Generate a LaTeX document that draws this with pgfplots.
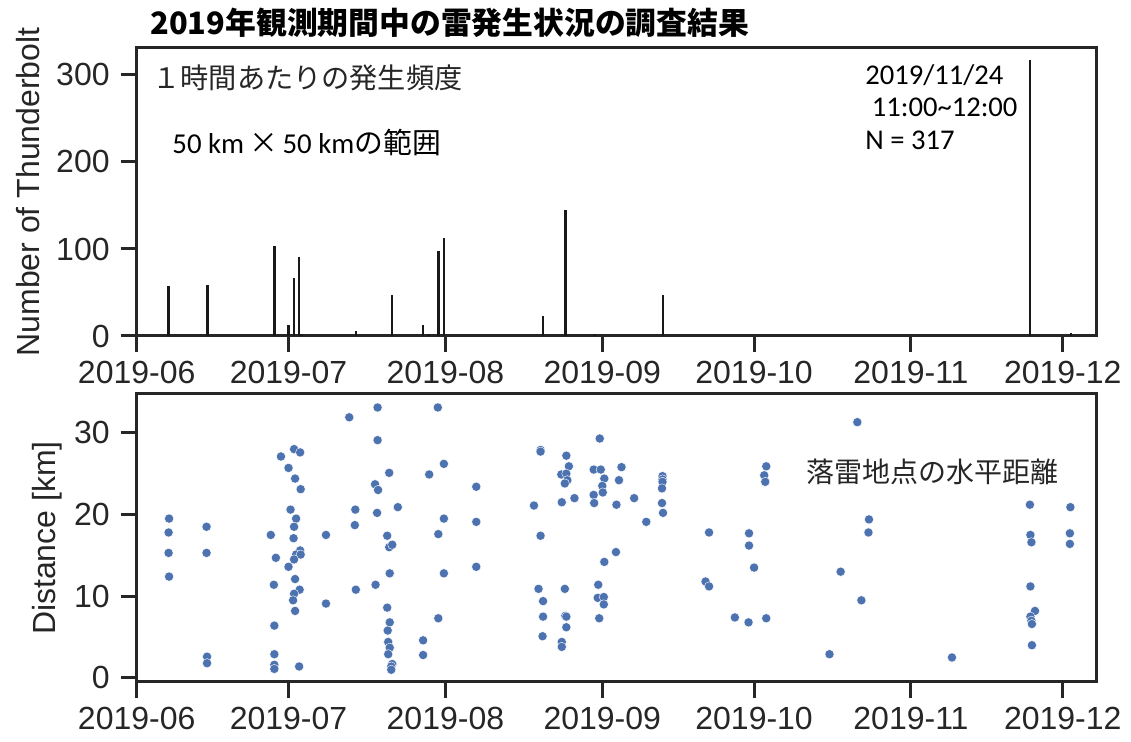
\documentclass[border=0pt]{standalone}
\usepackage{fontspec}
\usepackage{pgfplots}
\pgfplotsset{compat=1.18}
\setmainfont{Liberation Sans}
\newfontfamily\jp{Noto Sans CJK JP}
\newfontfamily\calib{Carlito}
\definecolor{spine}{HTML}{262626}
\definecolor{dot}{HTML}{4C72B0}
\pgfplotsset{
  common/.style={
    scale only axis, width=480pt, height=144pt,
    xmin=0, xmax=189.7,
    xtick={0,30,61,92,122,153,183},
    xticklabels={2019-06,2019-07,2019-08,2019-09,2019-10,2019-11,2019-12},
    xtick pos=bottom, ytick pos=left, tick align=outside,
    major tick length=8pt,
    every tick/.style={line width=1.5pt, spine},
    axis line style={line width=1.5pt, spine},
    ticklabel style={font=\fontsize{16}{18}\selectfont, text=spine},
    label style={font=\fontsize{16}{18}\selectfont, text=spine},
    /pgf/number format/assume math mode=true,
    xticklabel style={yshift=-1pt},
    yticklabel style={xshift=-2pt},
  }
}
\begin{document}
\begin{tikzpicture}
\useasboundingbox (0,0) rectangle (565.5pt,-371pt);
\begin{axis}[common, at={(68.35pt,-24pt)}, anchor=north west,
  ymin=0, ymax=331, ytick={0,100,200,300},
  ylabel={Number of Thunderbolt}, ylabel style={xshift=0pt, yshift=1.5pt}]
\addplot[ycomb, line width=1.2pt, black!90] coordinates {
(6.3,58) (14.0,59) (27.2,103) (30.0,13) (31.1,67) (32.1,91) (32.6,2)
(43.3,6) (50.5,47) (56.6,13) (57.7,2) (59.6,98) (60.7,113) (80.3,23)
(84.7,145) (90.5,2) (104.0,47) (176.5,317) (184.6,3)
};
\end{axis}
\begin{axis}[common, at={(68.35pt,-197pt)}, anchor=north west,
  ymin=-0.5, ymax=34.75, ytick={0,10,20,30},
  ylabel={Distance [km]}, ylabel style={yshift=-1pt}]
\addplot[only marks, mark=*, mark size=2.3pt, mark options={fill=dot, draw=white, line width=0.2pt}] table {
x y
6.4 19.5
6.3 17.8
6.3 15.3
6.4 12.4
13.8 18.5
13.8 15.3
13.9 2.6
13.9 1.8
26.5 17.5
27.5 14.7
27.1 11.4
27.2 6.4
27.2 2.9
27.2 1.6
27.2 1.1
28.5 27.1
30.0 25.7
31.1 28.0
32.3 27.6
31.3 24.4
32.4 23.1
30.4 20.6
31.5 19.5
31.1 18.5
31.0 17.1
32.3 15.6
31.5 15.1
32.4 15.1
31.1 14.5
30.0 13.6
31.3 12.1
32.2 10.8
31.1 10.3
30.9 9.5
31.3 8.2
32.1 1.4
37.4 17.5
37.4 9.1
42.0 31.9
43.2 20.6
43.1 18.7
43.3 10.8
47.6 33.1
47.6 29.1
49.9 25.1
47.1 23.7
47.7 23.0
47.5 20.2
51.6 20.9
49.5 17.4
49.9 16.0
50.5 16.3
50.0 12.8
47.2 11.4
49.5 8.6
50.0 6.8
49.6 5.8
49.7 4.4
50.0 3.7
49.7 2.9
50.5 1.7
50.3 1.4
50.3 1.0
56.6 4.6
56.6 2.8
57.8 24.9
59.5 33.1
60.7 26.2
60.7 19.5
59.6 17.6
60.7 12.8
59.6 7.3
67.1 23.4
67.1 19.1
67.1 13.6
79.8 27.9
79.8 27.7
78.5 21.1
79.8 17.4
79.4 10.9
80.3 9.4
80.3 7.5
80.2 5.1
84.9 27.2
85.4 25.9
83.9 24.9
84.9 25.0
85.1 24.2
84.6 23.8
86.5 22.0
84.0 21.5
84.6 10.9
84.7 7.6
84.9 7.5
84.9 6.2
84.0 4.4
84.0 3.8
91.5 29.3
90.3 25.5
91.7 25.5
92.4 24.4
92.0 23.5
92.1 22.7
90.3 22.4
90.4 21.4
95.8 25.8
95.3 24.2
94.8 21.2
98.3 22.0
100.7 19.1
103.9 24.7
103.9 24.3
103.9 24.0
103.8 23.2
103.8 21.4
104.0 20.2
94.7 15.4
92.4 14.2
91.2 11.4
91.1 9.8
92.3 9.9
92.3 9.0
91.4 7.3
113.1 17.8
112.4 11.8
113.1 11.2
118.2 7.4
121.0 17.7
121.0 16.2
122.0 13.5
120.9 6.8
124.4 25.9
124.0 24.8
124.2 24.0
124.4 7.3
136.9 2.9
139.1 13.0
142.4 31.3
143.2 9.5
144.7 19.4
144.6 17.8
161.1 2.5
176.5 21.2
176.6 17.5
176.8 16.6
176.6 11.2
177.5 8.2
176.6 7.5
176.8 7.0
176.9 6.6
176.9 4.0
184.5 20.9
184.4 17.7
184.4 16.4
};
\end{axis}
% annotations
\node[anchor=west, inner sep=0pt] at (75pt,-11.5pt) {\jp\bfseries\fontsize{15.4}{17}\selectfont 2019年観測期間中の雷発生状況の調査結果};
\node[anchor=west, inner sep=0pt, text=spine] at (76pt,-39pt) {\jp\fontsize{14.1}{16}\selectfont １時間あたりの発生頻度};
\node[anchor=west, inner sep=0pt] at (86pt,-71.5pt) {\fontsize{14.4}{16}\selectfont{\calib 50 km}\,{\jp ×}\,{\calib 50 km}{\jp の範囲}};
\node[anchor=west, inner sep=0pt] at (432.5pt,-37.5pt) {\calib\fontsize{14.3}{16}\selectfont 2019/11/24};
\node[anchor=west, inner sep=0pt] at (432.5pt,-53.5pt) {\calib\fontsize{14.3}{16}\selectfont \ 11:00\textasciitilde 12:00};
\node[anchor=west, inner sep=0pt] at (432.5pt,-70pt) {\calib\fontsize{14.3}{16}\selectfont N = 317};
\node[anchor=west, inner sep=0pt, text=spine] at (403pt,-236pt) {\jp\fontsize{14}{16}\selectfont 落雷地点の水平距離};
\end{tikzpicture}
\end{document}
